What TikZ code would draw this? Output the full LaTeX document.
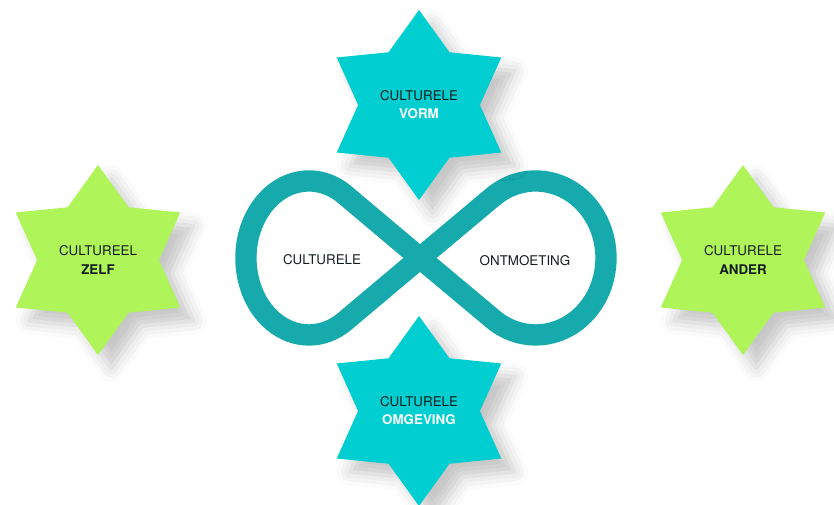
\documentclass[tikz,border=0pt]{standalone}
\usepackage{fontspec}
\setmainfont{TeX Gyre Heros}
\usetikzlibrary{shapes.geometric,shadows.blur}

\definecolor{cyanstar}{RGB}{0,206,209}
\definecolor{limestar}{RGB}{175,245,90}
\definecolor{loopteal}{RGB}{22,170,173}
\definecolor{darktext}{RGB}{18,28,28}

\tikzset{
  hexstar/.style={star, star points=6, star point ratio=1.56, minimum size=5.7cm,
    inner sep=0pt, align=center, text=darktext,
    font=\fontsize{11.4}{15.5}\selectfont,
    blur shadow={shadow xshift=0.4cm, shadow yshift=-0.4cm,
      shadow blur radius=0.4cm, shadow opacity=22}},
  cyanhex/.style={hexstar, fill=cyanstar},
  limehex/.style={hexstar, fill=limestar},
  loopline/.style={draw=loopteal, line width=0.64cm, line join=round},
  looptext/.style={text=darktext, font=\fontsize{11.4}{14}\selectfont}
}

\begin{document}
\begin{tikzpicture}[x=0.03cm, y=0.03cm]
\useasboundingbox (0,0) rectangle (834,-505);

% infinity loop
\coordinate (cross) at (420,-258);
\draw[loopline] (cross) -- (344.7,-194.6)
  arc[start angle=55.4, end angle=304.6, x radius=63, y radius=77] -- (cross)
  -- (493,-196.8)
  arc[start angle=127.4, end angle=-127.4, x radius=70.3, y radius=77] -- cycle;
\node[looptext] (cult) at (322,-260) {CULTURELE};
\node[looptext] (ontm) at (525,-261) {ONTMOETING};

% stars
\node[cyanhex] (vorm) at (419,-105) {CULTURELE\\\textbf{\color{white}VORM}};
\node[cyanhex] (omgeving) at (419,-411) {CULTURELE\\\textbf{\color{white}OMGEVING}};
\node[limehex] (zelf) at (98,-260) {CULTUREEL\\\textbf{ZELF}};
\node[limehex] (ander) at (743,-260) {CULTURELE\\\textbf{ANDER}};
\end{tikzpicture}
\end{document}
